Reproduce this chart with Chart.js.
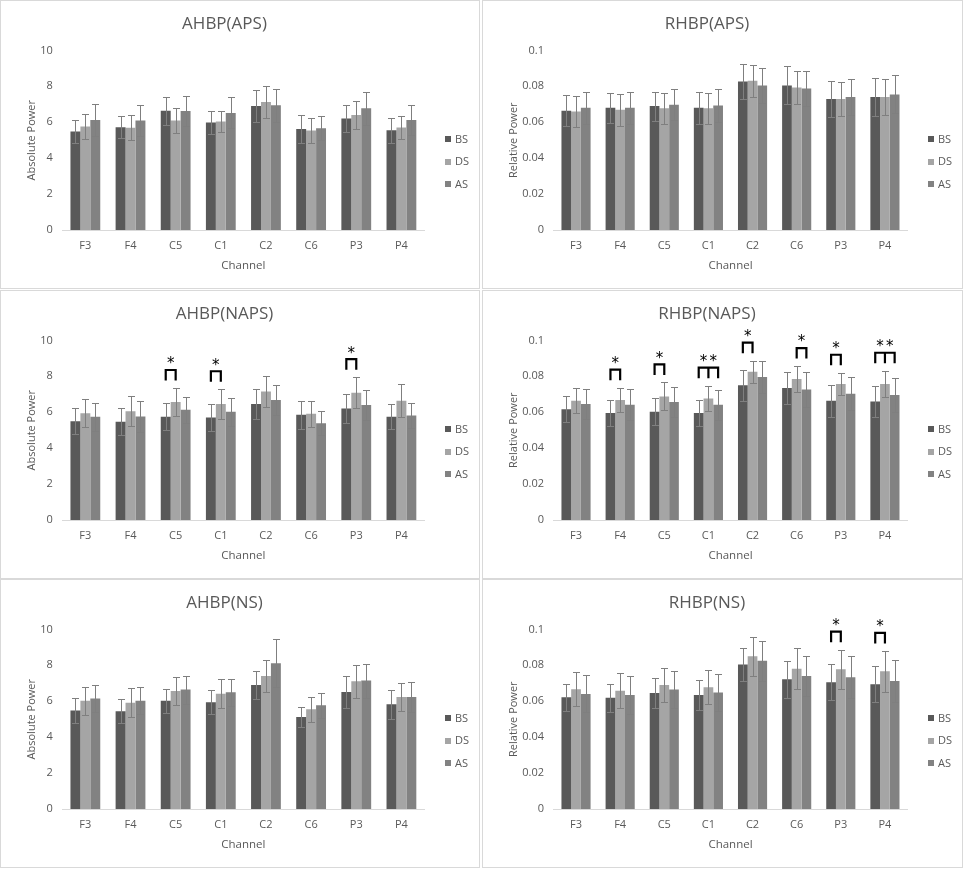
<!DOCTYPE html>
<html>
<head>
<meta charset="utf-8">
<script src="https://cdn.jsdelivr.net/npm/chart.js@4/dist/chart.umd.min.js"></script>
<style>
  body { margin: 0; background: #fff; }
  .panel { position: absolute; border: 1px solid #d9d9d9; box-sizing: border-box; background: #fff; }
  .panel canvas { display: block; }
</style>
</head>
<body>
<div class="panel" style="left:0;top:0;width:480px;height:289px"><canvas id="c1"></canvas></div>
<div class="panel" style="left:482px;top:0;width:481px;height:289px"><canvas id="c2"></canvas></div>
<div class="panel" style="left:0;top:290px;width:480px;height:289px"><canvas id="c3"></canvas></div>
<div class="panel" style="left:482px;top:290px;width:481px;height:289px"><canvas id="c4"></canvas></div>
<div class="panel" style="left:0;top:579px;width:480px;height:289px"><canvas id="c5"></canvas></div>
<div class="panel" style="left:482px;top:579px;width:481px;height:289px"><canvas id="c6"></canvas></div>
<script>
// channels and groups
var channels = ['F3', 'F4', 'C5', 'C1', 'C2', 'C6', 'P3', 'P4'];
var groups = ['BS', 'DS', 'AS'];

// AHBP(APS)
var apsAbsBS = [5.48, 5.72, 6.64, 5.99, 6.91, 5.63, 6.21, 5.56];
var apsAbsBSErr = [0.62, 0.62, 0.78, 0.63, 0.90, 0.78, 0.76, 0.69];
var apsAbsDS = [5.76, 5.69, 6.10, 6.04, 7.12, 5.54, 6.41, 5.71];
var apsAbsDSErr = [0.71, 0.69, 0.68, 0.58, 0.89, 0.71, 0.76, 0.65];
var apsAbsAS = [6.13, 6.10, 6.62, 6.52, 6.95, 5.67, 6.78, 6.13];
var apsAbsASErr = [0.90, 0.87, 0.83, 0.86, 0.91, 0.67, 0.93, 0.84];

// RHBP(APS)
var apsRelBS = [0.0664, 0.0680, 0.0690, 0.0680, 0.0827, 0.0805, 0.0729, 0.0740];
var apsRelBSErr = [0.0085, 0.0084, 0.0081, 0.0090, 0.0099, 0.0106, 0.0100, 0.0108];
var apsRelDS = [0.0660, 0.0669, 0.0678, 0.0678, 0.0831, 0.0794, 0.0729, 0.0740];
var apsRelDSErr = [0.0087, 0.0091, 0.0086, 0.0086, 0.0089, 0.0094, 0.0094, 0.0100];
var apsRelAS = [0.0680, 0.0680, 0.0697, 0.0693, 0.0805, 0.0788, 0.0740, 0.0755];
var apsRelASErr = [0.0088, 0.0091, 0.0087, 0.0091, 0.0096, 0.0100, 0.0100, 0.0106];

// AHBP(NAPS)
var napsAbsBS = [5.50, 5.47, 5.75, 5.71, 6.46, 5.86, 6.21, 5.75];
var napsAbsBSErr = [0.73, 0.76, 0.74, 0.75, 0.82, 0.78, 0.80, 0.69];
var napsAbsDS = [5.95, 6.06, 6.57, 6.46, 7.15, 5.91, 7.09, 6.64];
var napsAbsDSErr = [0.79, 0.82, 0.78, 0.82, 0.84, 0.71, 0.86, 0.92];
var napsAbsAS = [5.75, 5.76, 6.14, 6.03, 6.68, 5.39, 6.40, 5.82];
var napsAbsASErr = [0.78, 0.84, 0.73, 0.78, 0.82, 0.67, 0.82, 0.71];

// RHBP(NAPS)
var napsRelBS = [0.0616, 0.0596, 0.0603, 0.0596, 0.0750, 0.0735, 0.0664, 0.0660];
var napsRelBSErr = [0.0072, 0.0074, 0.0076, 0.0074, 0.0087, 0.0087, 0.0089, 0.0086];
var napsRelDS = [0.0664, 0.0668, 0.0688, 0.0677, 0.0826, 0.0785, 0.0757, 0.0757];
var napsRelDSErr = [0.0071, 0.0069, 0.0078, 0.0071, 0.0061, 0.0072, 0.0063, 0.0074];
var napsRelAS = [0.0646, 0.0642, 0.0657, 0.0642, 0.0796, 0.0727, 0.0703, 0.0696];
var napsRelASErr = [0.0083, 0.0087, 0.0083, 0.0083, 0.0091, 0.0097, 0.0091, 0.0094];

// AHBP(NS)
var nsAbsBS = [5.49, 5.44, 6.03, 5.94, 6.91, 5.12, 6.52, 5.83];
var nsAbsBSErr = [0.69, 0.67, 0.67, 0.67, 0.78, 0.56, 0.89, 0.80];
var nsAbsDS = [6.03, 5.92, 6.57, 6.42, 7.41, 5.55, 7.11, 6.24];
var nsAbsDSErr = [0.79, 0.80, 0.79, 0.81, 0.88, 0.69, 0.92, 0.80];
var nsAbsAS = [6.15, 6.03, 6.65, 6.50, 8.12, 5.77, 7.15, 6.24];
var nsAbsASErr = [0.76, 0.75, 0.78, 0.76, 1.34, 0.69, 0.95, 0.84];

// RHBP(NS)
var nsRelBS = [0.0622, 0.0620, 0.0646, 0.0635, 0.0804, 0.0722, 0.0706, 0.0694];
var nsRelBSErr = [0.0076, 0.0078, 0.0084, 0.0085, 0.0090, 0.0102, 0.0100, 0.0100];
var nsRelDS = [0.0667, 0.0659, 0.0691, 0.0678, 0.0850, 0.0781, 0.0778, 0.0767];
var nsRelDSErr = [0.0096, 0.0098, 0.0096, 0.0096, 0.0107, 0.0113, 0.0109, 0.0113];
var nsRelAS = [0.0641, 0.0635, 0.0665, 0.0648, 0.0826, 0.0741, 0.0733, 0.0713];
var nsRelASErr = [0.0103, 0.0106, 0.0104, 0.0104, 0.0111, 0.0113, 0.0117, 0.0115];

// significance marks: channel, groups joined by the bracket
var napsAbsSig = [['C5', [0, 1]], ['C1', [0, 1]], ['P3', [0, 1]]];
var napsRelSig = [['F4', [0, 1]], ['C5', [0, 1]], ['C1', [0, 1, 2]], ['C2', [0, 1]],
                  ['C6', [1, 2]], ['P3', [0, 1]], ['P4', [0, 1, 2]]];
var nsRelSig = [['P3', [0, 1]], ['P4', [0, 1]]];

var colors = ['#595959', '#a5a5a5', '#828282'];

Chart.defaults.font.family = "'Open Sans', sans-serif";
Chart.defaults.color = '#595959';

var errorBars = {
  id: 'errorBars',
  afterDatasetsDraw: function(chart) {
    var ctx = chart.ctx, y = chart.scales.y;
    ctx.save();
    ctx.strokeStyle = '#7f7f7f';
    ctx.lineWidth = 1;
    chart.data.datasets.forEach(function(ds, i) {
      chart.getDatasetMeta(i).data.forEach(function(bar, j) {
        var v = ds.data[j], e = ds.errors[j];
        var x = Math.round(bar.x) + 0.5;
        var t = Math.round(y.getPixelForValue(v + e)) + 0.5;
        var b = Math.round(y.getPixelForValue(v - e)) + 0.5;
        ctx.beginPath();
        ctx.moveTo(x, t); ctx.lineTo(x, b);
        ctx.moveTo(x - 3.5, t); ctx.lineTo(x + 3.5, t);
        ctx.moveTo(x - 3.5, b); ctx.lineTo(x + 3.5, b);
        ctx.stroke();
      });
    });
    ctx.restore();
  }
};

var brackets = {
  id: 'brackets',
  afterDatasetsDraw: function(chart, args, opts) {
    var list = opts.items || [];
    var ctx = chart.ctx, y = chart.scales.y;
    ctx.save();
    ctx.strokeStyle = '#000';
    ctx.fillStyle = '#000';
    ctx.lineWidth = 2.2;
    ctx.lineJoin = 'miter';
    ctx.lineCap = 'butt';
    ctx.font = "15px 'DejaVu Sans', sans-serif";
    ctx.textAlign = 'center';
    ctx.textBaseline = 'middle';
    list.forEach(function(s) {
      var ci = channels.indexOf(s[0]);
      var xs = [], topErr = Infinity;
      s[1].forEach(function(k) {
        var ds = chart.data.datasets[k];
        xs.push(chart.getDatasetMeta(k).data[ci].x);
        topErr = Math.min(topErr, y.getPixelForValue(ds.data[ci] + ds.errors[ci]));
      });
      var top = topErr - 18, legs = top + 10.5;
      ctx.beginPath();
      ctx.moveTo(xs[0], legs);
      ctx.lineTo(xs[0], top);
      ctx.lineTo(xs[xs.length - 1], top);
      ctx.lineTo(xs[xs.length - 1], legs);
      for (var m = 1; m < xs.length - 1; m++) {
        ctx.moveTo(xs[m], top);
        ctx.lineTo(xs[m], legs);
      }
      ctx.stroke();
      for (var n = 0; n < xs.length - 1; n++) {
        ctx.fillText('*', (xs[n] + xs[n + 1]) / 2, top - 5.5);
      }
    });
    ctx.restore();
  }
};

// legend at the right, a bit below the middle of the plot, like Excel puts it
var sideLegend = {
  id: 'sideLegend',
  afterDraw: function(chart) {
    var ctx = chart.ctx, area = chart.chartArea;
    ctx.save();
    ctx.font = "11px 'Open Sans', sans-serif";
    ctx.textBaseline = 'middle';
    ctx.textAlign = 'left';
    chart.data.datasets.forEach(function(ds, i) {
      var cy = area.top + 89 + i * 22.5;
      ctx.fillStyle = ds.backgroundColor;
      ctx.fillRect(Math.round(area.right) + 21, Math.round(cy) - 3, 6, 6);
      ctx.fillStyle = '#595959';
      ctx.fillText(ds.label, Math.round(area.right) + 31, cy);
    });
    ctx.restore();
  }
};

function makeChart(id, title, yTitle, max, step, series, errs, sig) {
  new Chart(document.getElementById(id), {
    type: 'bar',
    data: {
      labels: channels,
      datasets: groups.map(function(g, i) {
        return {
          label: g,
          data: series[i],
          errors: errs[i],
          backgroundColor: colors[i],
          categoryPercentage: 0.66,
          barPercentage: 1.0
        };
      })
    },
    options: {
      responsive: true,
      maintainAspectRatio: false,
      animation: false,
      devicePixelRatio: 1,
      layout: { padding: { left: 24, right: 55, bottom: 15 } },
      plugins: {
        title: {
          display: true,
          text: title,
          color: '#595959',
          font: { size: 17, weight: 'normal' },
          padding: { top: 13, bottom: 16 }
        },
        legend: { display: false },
        tooltip: { enabled: false },
        brackets: { items: sig }
      },
      scales: {
        x: {
          grid: { display: false },
          border: { color: '#d9d9d9' },
          ticks: { padding: 1, font: { size: 11 }, color: '#595959' },
          title: { display: true, text: 'Channel', font: { size: 11.5 }, color: '#595959', padding: { top: 6, bottom: 0 } }
        },
        y: {
          min: 0,
          max: max,
          grid: { display: false },
          border: { display: false },
          ticks: {
            stepSize: step, padding: 2, font: { size: 11 }, color: '#595959',
            callback: function(v) { return String(+v.toFixed(3)); }
          },
          title: { display: true, text: yTitle, font: { size: 11 }, color: '#595959', padding: { top: 0, bottom: 0 } }
        }
      }
    },
    plugins: [errorBars, brackets, sideLegend]
  });
}

makeChart('c1', 'AHBP(APS)', 'Absolute Power', 10, 2,
  [apsAbsBS, apsAbsDS, apsAbsAS], [apsAbsBSErr, apsAbsDSErr, apsAbsASErr], []);
makeChart('c2', 'RHBP(APS)', 'Relative Power', 0.1, 0.02,
  [apsRelBS, apsRelDS, apsRelAS], [apsRelBSErr, apsRelDSErr, apsRelASErr], []);
makeChart('c3', 'AHBP(NAPS)', 'Absolute Power', 10, 2,
  [napsAbsBS, napsAbsDS, napsAbsAS], [napsAbsBSErr, napsAbsDSErr, napsAbsASErr], napsAbsSig);
makeChart('c4', 'RHBP(NAPS)', 'Relative Power', 0.1, 0.02,
  [napsRelBS, napsRelDS, napsRelAS], [napsRelBSErr, napsRelDSErr, napsRelASErr], napsRelSig);
makeChart('c5', 'AHBP(NS)', 'Absolute Power', 10, 2,
  [nsAbsBS, nsAbsDS, nsAbsAS], [nsAbsBSErr, nsAbsDSErr, nsAbsASErr], []);
makeChart('c6', 'RHBP(NS)', 'Relative Power', 0.1, 0.02,
  [nsRelBS, nsRelDS, nsRelAS], [nsRelBSErr, nsRelDSErr, nsRelASErr], nsRelSig);
</script>
</body>
</html>
